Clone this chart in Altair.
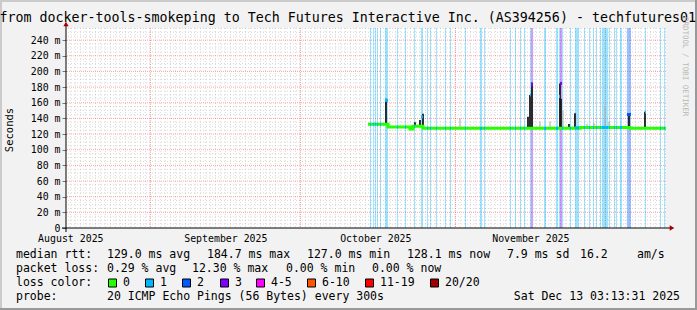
import altair as alt
import pandas as pd

# ------------------------------------------------------------------ data
RANGE_START = "2025-08-15T03:13:31"
RANGE_END = "2025-12-13T03:13:31"
STEP_HOURS = 4.8          # consolidation step of one graph column
Y_MAX = 255.5

# median RTT (ms), step-wise
median_times = ["2025-10-14T12:45:00", "2025-10-18T12:45:00", "2025-10-22T22:20:00",
                "2025-10-23T12:45:00", "2025-10-25T12:45:00", "2025-11-25T22:20:00",
                "2025-12-05T22:20:00", "2025-12-13T03:13:31"]
median_values = [132.5, 129.0, 126.5, 130.0, 127.3, 128.5, 127.3, 127.3]

# packet-loss periods: start, number of steps, lost pings, median in that step
loss_starts = ["2025-10-14T22:20", "2025-10-15T12:45", "2025-10-15T22:20", "2025-10-16T08:00",
               "2025-10-16T22:20", "2025-10-17T22:20", "2025-10-20T08:00", "2025-10-21T22:20",
               "2025-10-23T17:30", "2025-10-25T03:10", "2025-10-26T08:00", "2025-10-26T22:20",
               "2025-10-28T03:10", "2025-10-29T22:20", "2025-10-30T22:20", "2025-11-02T22:20",
               "2025-11-05T22:20", "2025-11-06T17:30", "2025-11-11T22:20", "2025-11-12T22:20",
               "2025-11-13T22:20", "2025-11-14T17:30", "2025-11-15T22:20", "2025-11-16T03:10",
               "2025-11-18T17:30", "2025-11-21T03:10", "2025-11-21T17:30", "2025-11-21T22:20",
               "2025-11-22T08:00", "2025-11-23T22:20", "2025-11-24T22:20", "2025-11-26T17:30",
               "2025-11-27T17:30", "2025-11-28T12:45", "2025-11-29T03:10", "2025-11-29T22:20",
               "2025-11-30T08:00", "2025-12-01T17:30", "2025-12-02T17:30", "2025-12-03T03:10",
               "2025-12-03T22:20", "2025-12-05T08:00", "2025-12-08T22:20", "2025-12-11T22:20",
               "2025-12-12T17:30"]
loss_steps = [1, 1, 1, 1, 1, 3, 1, 1, 1, 2, 1, 1, 1, 1, 1, 1, 2, 1, 1, 1, 1, 1, 1, 2,
              2, 2, 1, 2, 1, 1, 4, 1, 1, 1, 1, 1, 6, 1, 1, 1, 2, 4, 1, 1, 1]
loss_counts = [1, 1, 1, 1, 1, 1, 1, 1, 1, 1, 1, 1, 1, 1, 1, 1, 1, 1, 1, 1, 1, 1, 1, 3,
               1, 1, 1, 3, 1, 1, 1, 1, 1, 1, 1, 1, 1, 1, 1, 1, 1, 2, 1, 1, 1]
loss_medians = [132.5, 132.5, 132.5, 132.5, 132.5, 163.0, 129.0, 129.0, 130.0, 142.0,
                127.3, 127.3, 127.3, 127.3, 127.3, 127.3, 127.3, 127.3, 127.3, 127.3,
                127.3, 127.3, 170.0, 183.0, 127.3, 127.3, 168.0, 184.7, 127.3, 127.3,
                128.0, 128.5, 128.5, 128.5, 128.5, 128.5, 128.5, 128.5, 128.5, 128.5,
                128.5, 145.0, 148.0, 127.3, 127.3]

# dense smoke (dark) spikes
spike_times = ["2025-10-18T03:10", "2025-10-23T22:20", "2025-10-24T22:20", "2025-10-25T12:45",
               "2025-11-15T12:45", "2025-11-15T22:20", "2025-11-16T08:00", "2025-11-21T22:20",
               "2025-11-22T03:10", "2025-11-23T17:30", "2025-11-24T22:20", "2025-12-05T17:30",
               "2025-12-08T22:20"]
spike_lows = [132, 129, 129, 128, 127, 127, 127, 127, 127, 127, 127, 127, 127]
spike_highs = [165, 135, 138, 146, 142, 170, 186, 184.7, 165, 133, 146.5, 146.5, 148.5]

# faint smoke spikes
smoke_times = ["2025-11-01T22:20", "2025-11-17T22:20", "2025-11-19T22:20", "2025-11-22T12:45",
               "2025-11-27T08:00", "2025-11-28T17:30", "2025-11-30T22:20", "2025-12-01T17:30"]
smoke_lows = [128, 128, 128, 128, 129, 129, 129, 129]
smoke_highs = [140, 136, 136, 150, 133, 134, 156, 136]

month_starts = ["2025-09-01T00:00:00", "2025-10-01T00:00:00",
                "2025-11-01T00:00:00", "2025-12-01T00:00:00"]
month_label_times = ["2025-08-16T00:00:00", "2025-09-16T00:00:00",
                     "2025-10-16T00:00:00", "2025-11-16T00:00:00"]
y_ticks = [0, 20, 40, 60, 80, 100, 120, 140, 160, 180, 200, 220, 240]

title_text = "from docker-tools-smokeping to Tech Futures Interactive Inc. (AS394256) - techfutures01"
unit_text = "Seconds"
watermark = "RRDTOOL / TOBI OETIKER"
row_rtt = ["median rtt:", "129.0 ms avg", "184.7 ms max", "127.0 ms min",
           "128.1 ms now", "7.9 ms sd", "16.2", "am/s"]
row_loss = ["packet loss:", "0.29 % avg", "12.30 % max", "0.00 % min", "0.00 % now"]
row_color = ["loss color:"]
loss_color_labels = ["0", "1", "2", "3", "4-5", "6-10", "11-19", "20/20"]
loss_color_values = ["#26ff00", "#00b8ff", "#0059ff", "#7e00ff",
                     "#ff00ff", "#ff5500", "#ff0000", "#a00000"]
row_probe = ["probe:", "20 ICMP Echo Pings (56 Bytes) every 300s"]
date_text = "Sat Dec 13 03:13:31 2025"

# ------------------------------------------------------------------ layout
OX, OY = 66, 28
FONT = "DejaVu Sans Mono"
rtt_x = [16, 107, 207, 307, 407, 507, 580, 637]
loss_x = [16, 107, 192, 286, 372]
box_x = [108, 145, 182, 220, 256, 307, 365, 430]
row_y = [255, 269, 283, 297]


def dt(s):
    ts = pd.Timestamp(s)
    return alt.DateTime(year=ts.year, month=ts.month, date=ts.day,
                        hours=ts.hour, minutes=ts.minute, seconds=ts.second)


xscale = alt.Scale(domain=[dt(RANGE_START), dt(RANGE_END)], nice=False)
yscale = alt.Scale(domain=[0, Y_MAX], nice=False)
xaxis = alt.Axis(values=[dt(s) for s in month_label_times],
                 labelExpr="timeFormat(datum.value, '%B %Y')",
                 ticks=False, tickSize=0, domain=False, grid=False, title=None,
                 labelFont=FONT, labelFontSize=9.9, labelColor="#000",
                 labelPadding=5, labelFlush=False, labelOverlap=False)
yaxis = alt.Axis(values=y_ticks,
                 labelExpr="datum.value == 0 ? '0' : datum.value + ' m'",
                 grid=False, domain=False, tickSize=4, tickColor="#777", title=None,
                 labelFont=FONT, labelFontSize=9.9, labelColor="#000", labelPadding=2)


def X(f):
    return alt.X(f"{f}:T", scale=xscale, axis=xaxis, title=None)


def Y(f):
    return alt.Y(f"{f}:Q", scale=yscale, axis=yaxis, title=None)


# ------------------------------------------------------------------ frames
hminor = pd.DataFrame({"v": [v for v in range(5, 256, 5) if v % 20]})
hmajor = pd.DataFrame({"v": y_ticks[1:]})
vminor = pd.DataFrame({"t": pd.date_range("2025-08-16", "2025-12-13", freq="D")})
vmajor = pd.DataFrame({"t": pd.to_datetime(month_starts)})

med_df = pd.DataFrame({"t": pd.to_datetime(median_times), "v": median_values})
loss_df = pd.DataFrame({"t": pd.to_datetime(loss_starts), "steps": loss_steps,
                        "loss": loss_counts, "v": loss_medians})
loss_df["t2"] = loss_df["t"] + pd.to_timedelta(loss_df["steps"] * STEP_HOURS, unit="h")
spike_df = pd.DataFrame({"t": pd.to_datetime(spike_times), "lo": spike_lows, "hi": spike_highs})
smoke_df = pd.DataFrame({"t": pd.to_datetime(smoke_times), "lo": smoke_lows, "hi": smoke_highs})

loss_scale = alt.Scale(domain=[1, 2, 3], range=loss_color_values[1:4])

layers = []
layers.append(alt.Chart(hminor).mark_rule(color="#8c8c8c", opacity=0.35, strokeDash=[1, 2])
              .encode(y=Y("v")))
layers.append(alt.Chart(vminor).mark_rule(color="#8c8c8c", opacity=0.35, strokeDash=[1, 2])
              .encode(x=X("t")))
layers.append(alt.Chart(hmajor).mark_rule(color="#ff0000", opacity=0.35, strokeDash=[1, 1])
              .encode(y=Y("v")))
layers.append(alt.Chart(vmajor).mark_rule(color="#ff0000", opacity=0.35, strokeDash=[1, 1])
              .encode(x=X("t")))
layers.append(alt.Chart(loss_df).mark_rect(opacity=0.38)
              .encode(x=X("t"), x2="t2",
                      color=alt.Color("loss:O", scale=loss_scale, legend=None)))
layers.append(alt.Chart(smoke_df).mark_rule(color="#aaaaaa", strokeWidth=1)
              .encode(x=X("t"), y=Y("lo"), y2="hi"))
layers.append(alt.Chart(spike_df).mark_rule(color="#1a1a1a", strokeWidth=1.8)
              .encode(x=X("t"), y=Y("lo"), y2="hi"))
layers.append(alt.Chart(med_df).mark_line(interpolate="step-after", color="#26ff00", strokeWidth=3)
              .encode(x=X("t"), y=Y("v")))
layers.append(alt.Chart(loss_df).mark_rule(strokeWidth=3)
              .encode(x=X("t"), x2="t2", y=Y("v"),
                      color=alt.Color("loss:O", scale=loss_scale, legend=None)))

dummy = pd.DataFrame({"a": [0]})


def deco_rule(x1, y1, x2, y2, color, width):
    return alt.Chart(dummy).mark_rule(color=color, strokeWidth=width).encode(
        x=alt.value(x1 - OX), x2=alt.value(x2 - OX), y=alt.value(y1 - OY), y2=alt.value(y2 - OY))


def text(s, x, y, size=11.5, align="left", angle=None, color="#000"):
    kw = dict(text=s, align=align, baseline="middle", font=FONT, fontSize=size, color=color)
    if angle is not None:
        kw["angle"] = angle
    return alt.Chart(dummy).mark_text(**kw).encode(x=alt.value(x - OX), y=alt.value(y - OY))


# axes with arrows
layers.append(deco_rule(62, 228, 670, 228, "#000", 1))
layers.append(deco_rule(66, 232, 66, 25, "#000", 1))
layers.append(alt.Chart(dummy).mark_point(shape="triangle-right", filled=True, size=28,
                                          color="#a00000", opacity=1)
              .encode(x=alt.value(672 - OX), y=alt.value(228 - OY)))
layers.append(alt.Chart(dummy).mark_point(shape="triangle-up", filled=True, size=28,
                                          color="#a00000", opacity=1)
              .encode(x=alt.value(66 - OX), y=alt.value(24 - OY)))

# outer frame
layers.append(deco_rule(0, 1, 697, 1, "#cbcbcb", 2))
layers.append(deco_rule(1, 0, 1, 310, "#cbcbcb", 2))
layers.append(deco_rule(696, 0, 696, 310, "#999999", 2))
layers.append(deco_rule(0, 309, 697, 309, "#999999", 2))

# texts
layers.append(text(title_text, -0.5, 18, size=13.3))
layers.append(text(unit_text, 10, 130, size=10.5, align="center", angle=270))
layers.append(text(watermark, 685, 17, size=7.5, angle=90, color="#b8b8b8"))
for s, x in zip(row_rtt, rtt_x):
    layers.append(text(s, x, row_y[0]))
for s, x in zip(row_loss, loss_x):
    layers.append(text(s, x, row_y[1]))
layers.append(text(row_color[0], 16, row_y[2]))
for lab, col, x in zip(loss_color_labels, loss_color_values, box_x):
    layers.append(alt.Chart(dummy).mark_square(size=64, fill=col, stroke="#000",
                                               strokeWidth=1, opacity=1)
                  .encode(x=alt.value(x + 4.5 - OX), y=alt.value(row_y[2] - OY)))
    layers.append(text(lab, x + 15, row_y[2]))
layers.append(text(row_probe[0], 16, row_y[3]))
layers.append(text(row_probe[1], 107, row_y[3]))
layers.append(text(date_text, 680, row_y[3], align="right"))

chart = alt.layer(*layers).properties(
    width=600, height=200,
    padding={"left": OX, "top": OY, "right": 31, "bottom": 82},
    autosize=alt.AutoSizeParams(type="none"),
    background="#f2f2f2",
).configure_view(stroke=None, fill="#ffffff")

chart.save("out.html", embed_options={"renderer": "svg", "actions": False})
